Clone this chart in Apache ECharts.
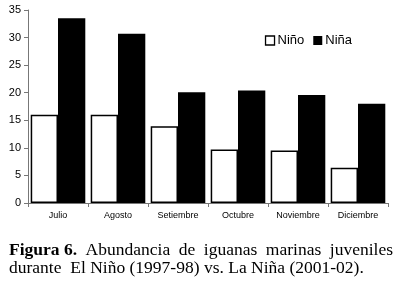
<!DOCTYPE html>
<html><head><meta charset="utf-8">
<script src="https://cdn.jsdelivr.net/npm/echarts@6/dist/echarts.min.js"></script>
<style>html,body{margin:0;padding:0;background:#fff}#c{width:400px;height:284px}</style>
</head><body><div id="c"></div>
<script>
const categories = ['Julio','Agosto','Setiembre','Octubre','Noviembre','Diciembre'];
const nino = [16, 16, 13.9, 9.7, 9.5, 6.4];
const nina = [33.5, 30.7, 20.1, 20.4, 19.6, 18.0];
const seriesNames = ['Niño','Niña'];
const yTicks = {min:0, max:35, interval:5};
const captionLine1 = [['Figura 6.', true], ['Abundancia', false], ['de', false], ['iguanas', false], ['marinas', false], ['juveniles', false]];
const captionLine2 = 'durante  El Niño (1997-98) vs. La Niña (2001-02).';

const capSize = 17.5;
const capLeft = 9, capRight = 393;
const ctx = document.createElement('canvas').getContext('2d');
const widths = captionLine1.map(([w, b]) => {
  ctx.font = (b ? 'bold ' : '') + capSize + 'px "Liberation Serif"';
  return ctx.measureText(w).width;
});
const totalW = widths.reduce((a, b) => a + b, 0);
const gap = (capRight - capLeft - totalW) / (captionLine1.length - 1);
let xPos = capLeft;
const capGraphics = captionLine1.map(([w, b], i) => {
  const g = {type:'text', x:xPos, y:241, style:{text:w, fontFamily:'Liberation Serif', fontSize:capSize, fontWeight:b?'bold':'normal', fill:'#000'}};
  xPos += widths[i] + gap;
  return g;
});
capGraphics.push({type:'text', x:capLeft, y:259, style:{text:captionLine2, fontFamily:'Liberation Serif', fontSize:capSize, fill:'#000'}});

const chart = echarts.init(document.getElementById('c'), null, {renderer:'canvas'});
chart.setOption({
  animation:false,
  backgroundColor:'#fff',
  grid:{left:28, right:12, top:10, bottom:81},
  legend:{
    right:43, top:29, itemWidth:9, itemHeight:9, itemGap:9,
    textStyle:{fontFamily:'Liberation Sans, Arial', fontSize:13, color:'#000', padding:[0,0,0,-2]},
    data:[{name:'Niño', icon:'rect', itemStyle:{color:'#fff', borderColor:'#000', borderWidth:1.3}},
          {name:'Niña', icon:'rect', itemStyle:{color:'#000'}}]
  },
  xAxis:{
    type:'category', data:categories,
    axisLine:{lineStyle:{color:'#777', width:1}},
    axisTick:{show:true, length:4, lineStyle:{color:'#777'}},
    axisLabel:{fontFamily:'Liberation Sans, Arial', fontSize:9, color:'#000', margin:8, interval:0}
  },
  yAxis:{
    type:'value', min:yTicks.min, max:yTicks.max, interval:yTicks.interval,
    splitLine:{show:false},
    axisLine:{show:true, lineStyle:{color:'#777', width:1}},
    axisTick:{show:true, length:4, lineStyle:{color:'#777'}},
    axisLabel:{fontFamily:'Liberation Sans, Arial', fontSize:11, color:'#000', margin:7}
  },
  series:[
    {name:seriesNames[0], type:'bar', data:nino, barGap:'0%', barCategoryGap:'9%',
     itemStyle:{color:'#fff', borderColor:'#000', borderWidth:1.5}},
    {name:seriesNames[1], type:'bar', data:nina,
     itemStyle:{color:'#000'}}
  ],
  graphic:capGraphics
});
</script></body></html>
